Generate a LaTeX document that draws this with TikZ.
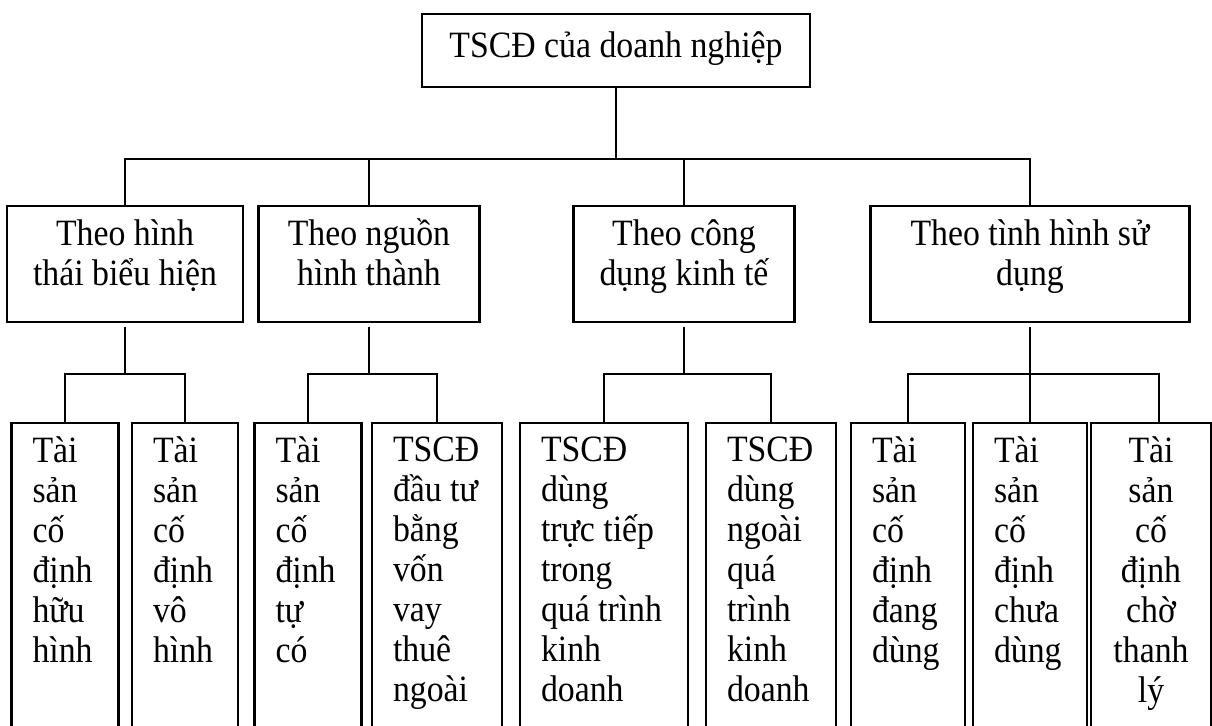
\documentclass[tikz,border=0pt]{standalone}
\usepackage{fontspec}
\setmainfont{Liberation Serif}[FakeStretch=0.91]
\usetikzlibrary{positioning}

\newcommand{\px}{0.0125cm}
\newcommand{\topstrut}{\rule{0pt}{12.5pt}}
\newcommand{\botstrut}{\rule[-8.2pt]{0pt}{0pt}}

\begin{document}
\begin{tikzpicture}[x=0.0125cm, y=-0.0125cm, line width=0.75pt,
    font=\fontsize{13.2}{14.2}\selectfont,
    topbox/.style={draw, minimum width=388*\px, minimum height=73*\px, inner sep=0pt,
      text height=12.5pt, text depth=7.2pt},
    groupbox/.style={draw, align=center, minimum height=116*\px, inner sep=0pt,
      execute at begin node=\topstrut, execute at end node=\botstrut},
    itembox/.style={draw, anchor=north, minimum height=400*\px, inner sep=0pt},
    itemtext/.style={inner sep=0pt, anchor=north west, align=left, execute at begin node=\strut}]
  \useasboundingbox (0,0) rectangle (1212,726);
  \clip (0,0) rectangle (1212,726);

  % root
  \node[topbox] (root) at (616,50.5) {TSCĐ của doanh nghiệp};

  % classification criteria
  \node[groupbox, minimum width=236*\px] (m1) at (125,264) {Theo hình\\thái biểu hiện};
  \node[groupbox, minimum width=221*\px] (m2) at (369,264) {Theo nguồn\\hình thành};
  \node[groupbox, minimum width=221*\px] (m3) at (684,264) {Theo công\\dụng kinh tế};
  \node[groupbox, minimum width=319*\px] (m4) at (1030,264) {Theo tình hình sử\\dụng};

  % kinds of fixed assets
  \node[itembox, minimum width=107*\px] (l1) at (65,422) {};
  \node[itembox, minimum width=106*\px] (l2) at (185,422) {};
  \node[itembox, minimum width=107*\px] (l3) at (308,422) {};
  \node[itembox, minimum width=130*\px] (l4) at (437,422) {};
  \node[itembox, minimum width=168*\px] (l5) at (604,422) {};
  \node[itembox, minimum width=130*\px] (l6) at (771,422) {};
  \node[itembox, minimum width=114*\px] (l7) at (908,422) {};
  \node[itembox, minimum width=114*\px] (l8) at (1030,422) {};
  \node[itembox, minimum width=120*\px] (l9) at (1151,422) {};

  \node[itemtext, below right=14*\px and 21*\px of l1.north west] (t1) {Tài\\sản\\cố\\định\\hữu\\hình};
  \node[itemtext, below right=14*\px and 21*\px of l2.north west] (t2) {Tài\\sản\\cố\\định\\vô\\hình};
  \node[itemtext, below right=14*\px and 21*\px of l3.north west] (t3) {Tài\\sản\\cố\\định\\tự\\có};
  \node[itemtext, below right=14*\px and 21*\px of l4.north west] (t4) {TSCĐ\\đầu tư\\bằng\\vốn\\vay\\thuê\\ngoài};
  \node[itemtext, below right=14*\px and 21*\px of l5.north west] (t5) {TSCĐ\\dùng\\trực tiếp\\trong\\quá trình\\kinh\\doanh};
  \node[itemtext, below right=14*\px and 21*\px of l6.north west] (t6) {TSCĐ\\dùng\\ngoài\\quá\\trình\\kinh\\doanh};
  \node[itemtext, below right=14*\px and 21*\px of l7.north west] (t7) {Tài\\sản\\cố\\định\\đang\\dùng};
  \node[itemtext, below right=14*\px and 21*\px of l8.north west] (t8) {Tài\\sản\\cố\\định\\chưa\\dùng};
  \node[itemtext, align=center, below=14*\px of l9.north] (t9) {Tài\\sản\\cố\\định\\chờ\\thanh\\lý};

  % upper connectors
  \coordinate (bus) at (616,159);
  \draw (root.south) -- (bus);
  \draw (m1.north) |- (bus) -| (m4.north);
  \draw (m2.north) -- (m2.north |- bus);
  \draw (m3.north) -- (m3.north |- bus);

  % lower connectors
  \coordinate (lowbus) at (616,374);
  \coordinate (j9) at (1159,374);
  \foreach \m in {m1,m2,m3,m4}
    \draw[shorten <=4*\px] (\m.south) -- (\m.south |- lowbus);
  \draw (l1.north) -- (l1.north |- lowbus) -| (l2.north);
  \draw (l3.north) -- (l3.north |- lowbus) -| (l4.north);
  \draw (l5.north) -- (l5.north |- lowbus) -| (l6.north);
  \draw (l7.north) -- (l7.north |- lowbus) -- (j9) -- (j9 |- l9.north);
  \draw (l8.north) -- (l8.north |- lowbus);
\end{tikzpicture}
\end{document}
